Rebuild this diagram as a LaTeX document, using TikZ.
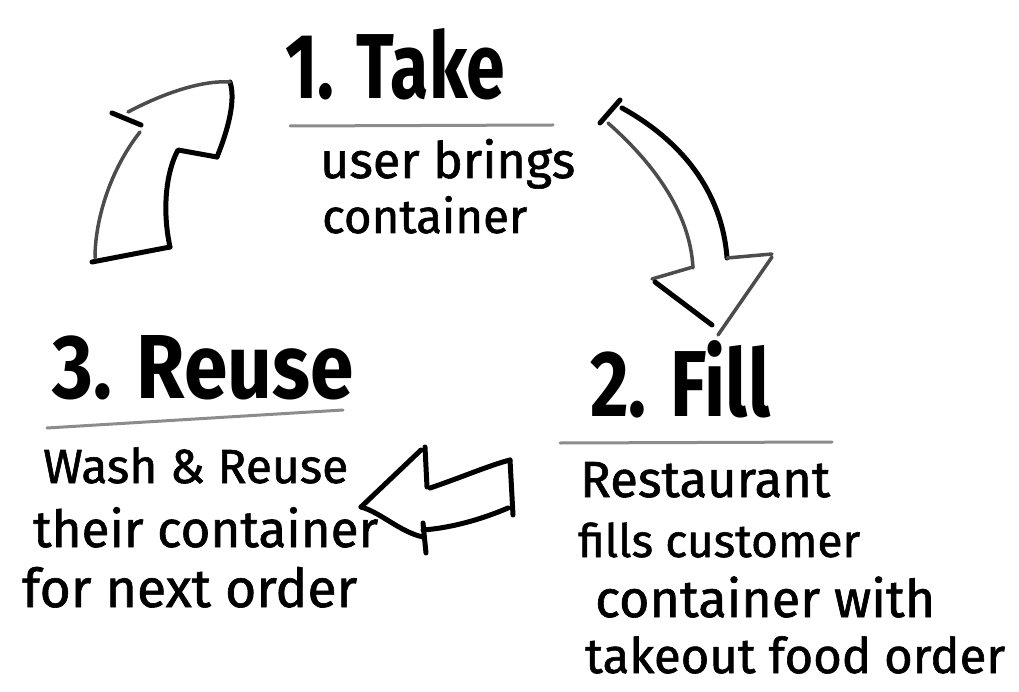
\documentclass[tikz,border=0pt]{standalone}
\usepackage{fontspec}
\setmainfont{Fira Sans}
\newfontfamily\bodyfont[FakeBold=1.2]{Fira Sans}
\usepackage{graphicx}
\tikzset{
  sk/.style={line width=5pt, draw=black, line cap=round, line join=round},
  skl/.style={line width=3.5pt, draw=black!70, line cap=round, line join=round},
  rule/.style={line width=3pt, draw=black!45, line cap=round},
  title/.style={inner sep=0pt, anchor=south west, text=black},
  body/.style={inner sep=0pt, anchor=base west, text=black, font=\bodyfont\fontsize{42}{50}\selectfont}
}
\begin{document}
\begin{tikzpicture}[x=1pt,y=-1pt]
\useasboundingbox (0,0) rectangle (1019,692);
\fill[white] (0,0) rectangle (1019,692);
% titles
\node[title] (take) at (285,100) {\resizebox{220pt}{70pt}{\bfseries 1. Take}};
\node[title] (fill) at (590,418) {\resizebox{180pt}{76pt}{\bfseries 2. Fill}};
\node[title] (reuse) at (52,400) {\resizebox{301pt}{63pt}{\bfseries 3. Reuse}};
% underlines
\coordinate (u1a) at (290,126); \coordinate (u1b) at (553,125);
\coordinate (u2a) at (560,443); \coordinate (u2b) at (832,442);
\coordinate (u3a) at (47,428); \coordinate (u3b) at (343,410);
\draw[rule] (u1a) -- (u1b);
\draw[rule] (u2a) -- (u2b);
\draw[rule] (u3a) -- (u3b);
% body texts
\node[body] (b1a) at (320,178) {\resizebox{255pt}{!}{user brings}};
\node[body] (b1b) at (322,233) {\resizebox{205pt}{!}{container}};
\node[body] (b3a) at (43,483) {\resizebox{305pt}{!}{Wash \& Reuse}};
\node[body] (b3b) at (33,547) {\resizebox{345pt}{!}{their container}};
\node[body] (b3c) at (22,607) {\resizebox{335pt}{!}{for next order}};
\node[body] (b2a) at (580,497) {\resizebox{250pt}{!}{Restaurant}};
\node[body] (b2b) at (578,557) {\resizebox{282pt}{!}{fills customer}};
\node[body] (b2c) at (595,617) {\resizebox{340pt}{!}{container with}};
\node[body] (b2d) at (585,673) {\resizebox{420pt}{!}{takeout food order}};
% arrow 1 (up-right)
\draw[sk] (92,262) -- (170,247);
\draw[sk] (170,247) .. controls (162,210) and (166,172) .. (178,150) -- (217,157);
\draw[sk] (217,157) .. controls (228,130) and (236,100) .. (230,82);
\draw[skl] (230,82) .. controls (200,80) and (160,95) .. (128,112);
\draw[sk] (112,113) -- (141,125);
\draw[skl] (140,132) .. controls (110,170) and (95,220) .. (95,258);
% arrow 2 (down)
\draw[sk] (600,123) -- (620,100);
\draw[skl] (608,123) .. controls (650,160) and (690,210) .. (693,268);
\draw[sk] (622,108) .. controls (680,140) and (722,190) .. (727,258);
\draw[skl] (693,267) -- (652,279);
\draw[skl] (727,258) -- (772,254);
\draw[sk] (655,282) -- (712,325);
\draw[skl] (772,257) -- (718,335);
% arrow 3 (left)
\draw[sk] (361,507) -- (421,450);
\draw[sk] (361,507) .. controls (380,512) and (400,532) .. (423,537);
\draw[sk] (425,447) -- (427,487);
\draw[sk] (430,488) .. controls (460,478) and (490,465) .. (510,460);
\draw[sk] (510,460) -- (513,515);
\draw[sk] (508,508) .. controls (480,520) and (450,528) .. (423,530);
\draw[sk] (423,523) -- (426,553);
\end{tikzpicture}
\end{document}
